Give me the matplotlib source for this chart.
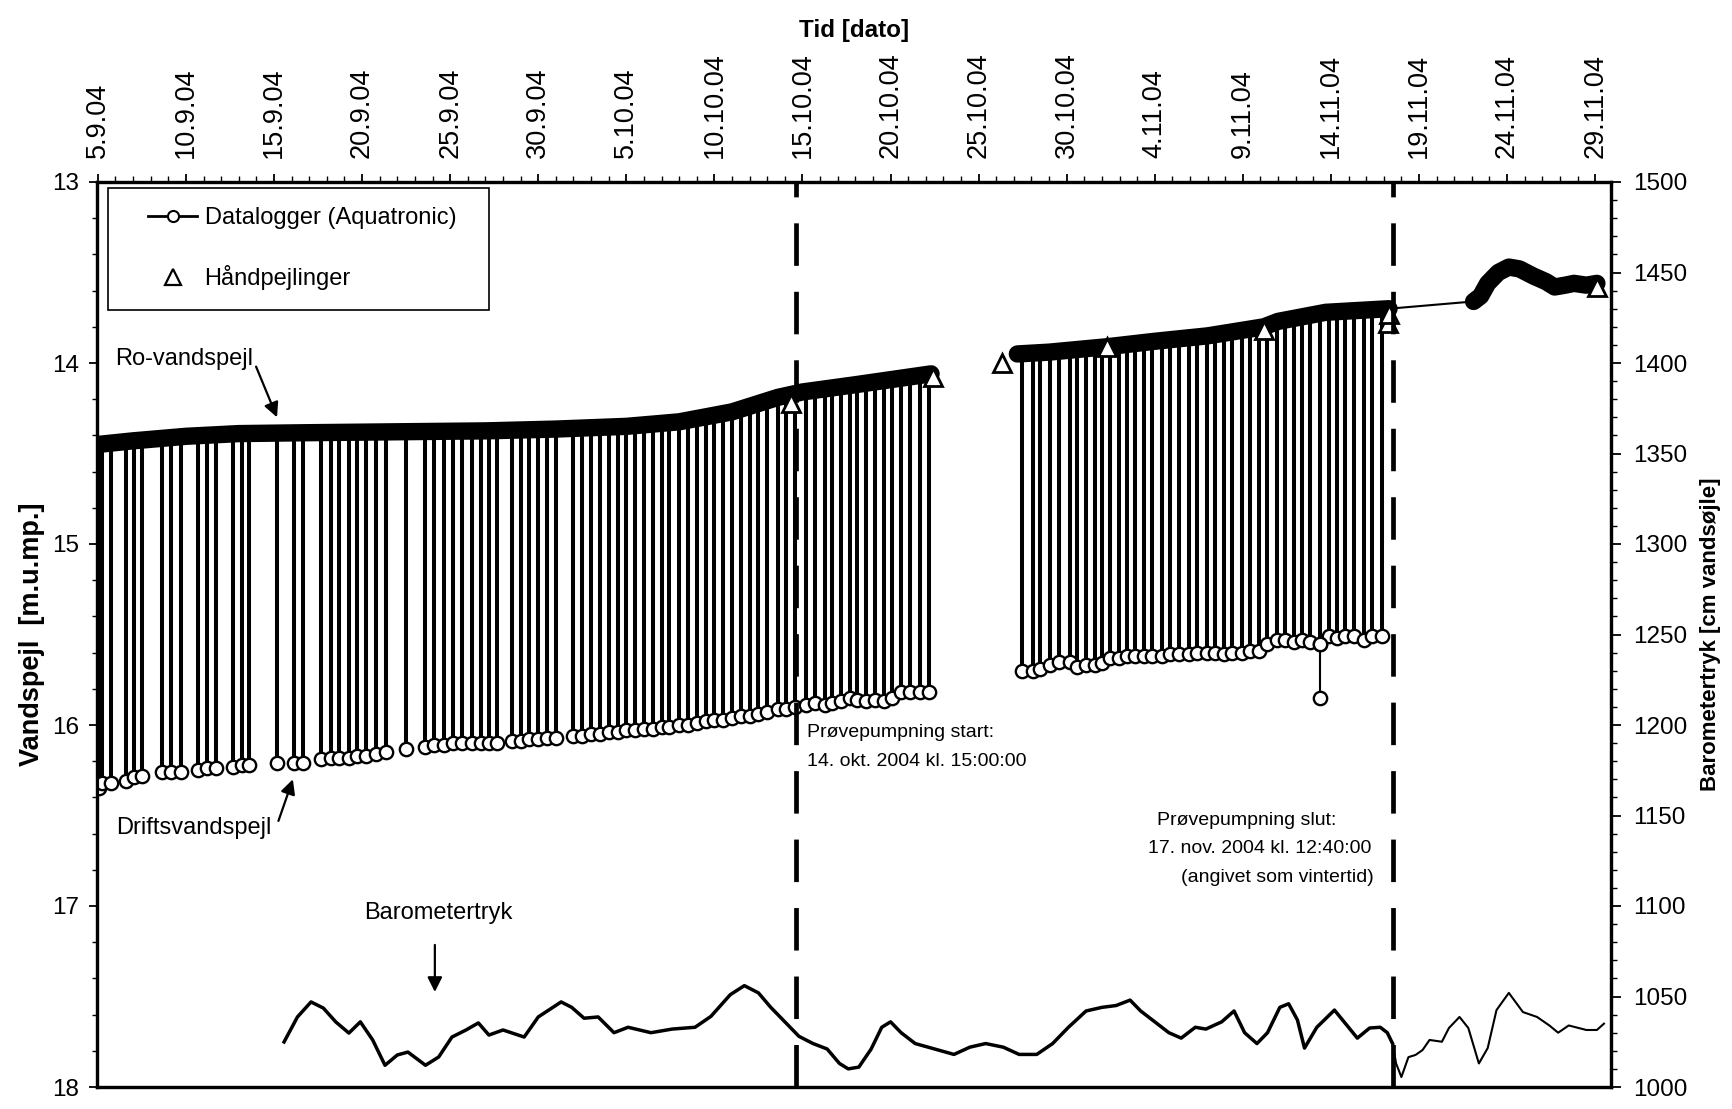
import numpy as np
import matplotlib
matplotlib.use("Agg")
import matplotlib.pyplot as plt
from matplotlib.lines import Line2D
from matplotlib.legend_handler import HandlerLine2D

plt.rcParams['font.family'] = ['Liberation Sans', 'DejaVu Sans']

# ---------------- data (x = days after 5.9.04 00:00) ----------------
tick_days = [0, 5, 10, 15, 20, 25, 30, 35, 40, 45, 50, 55, 60, 65, 70, 75, 80, 85]
tick_labels = ["5.9.04", "10.9.04", "15.9.04", "20.9.04", "25.9.04", "30.9.04",
               "5.10.04", "10.10.04", "15.10.04", "20.10.04", "25.10.04", "30.10.04",
               "4.11.04", "9.11.04", "14.11.04", "19.11.04", "24.11.04", "29.11.04"]

# rest water level (Ro-vandspejl), datalogger
rest1_day = [0, 2, 5, 8, 12, 17, 22, 26, 30, 33, 36, 38.6, 40, 43, 47.3]
rest1_lvl = [14.45, 14.43, 14.405, 14.39, 14.385, 14.38, 14.375, 14.365, 14.35, 14.325,
             14.27, 14.19, 14.16, 14.12, 14.06]
rest2_day = [52.2, 54, 57.3, 60, 63, 66.2, 67, 69.7, 73.3]
rest2_lvl = [13.95, 13.94, 13.91, 13.88, 13.85, 13.80, 13.77, 13.72, 13.70]
gap_day = [73.3, 78.1]
gap_lvl = [13.70, 13.66]
rest3_day = [78.1, 78.5, 78.9, 79.5, 80.1, 80.7, 81.5, 82.2, 82.7, 83.3, 83.8, 84.5, 85.1]
rest3_lvl = [13.66, 13.63, 13.56, 13.50, 13.47, 13.48, 13.52, 13.55, 13.58, 13.57, 13.56,
             13.57, 13.56]

# operating water level (Driftsvandspejl) - pumping events
drift1_day = [0.08, 0.25, 0.76, 1.61, 2.07, 2.52, 3.65, 4.16, 4.73, 5.69, 6.2, 6.71, 7.67,
              8.19, 8.58, 10.17, 11.13, 11.64, 12.66, 13.23, 13.68, 14.25, 14.7, 15.21,
              15.78, 16.35, 17.48, 18.56, 19.07, 19.63, 20.14, 20.65, 21.22, 21.73, 22.18,
              22.63, 23.5, 24.0, 24.5, 25.0, 25.5, 26.0, 27.0, 27.5, 28.0, 28.5, 29.0, 29.5,
              30.0, 30.5, 31.0, 31.5, 32.0, 32.4, 33.0, 33.5, 34.0, 34.5, 35.0, 35.5, 36.0,
              36.5, 37.0, 37.5, 38.0, 38.6, 39.06, 39.6, 40.2, 40.7, 41.3, 41.7, 42.2, 42.7,
              43.1, 43.6, 44.1, 44.6, 45.1, 45.6, 46.1, 46.7, 47.2]
drift1_lvl = [16.35, 16.32, 16.32, 16.31, 16.29, 16.28, 16.26, 16.26, 16.26, 16.25, 16.24,
              16.24, 16.23, 16.22, 16.22, 16.21, 16.21, 16.21, 16.19, 16.18, 16.18, 16.18,
              16.17, 16.17, 16.16, 16.15, 16.13, 16.12, 16.11, 16.11, 16.10, 16.10, 16.10,
              16.10, 16.10, 16.10, 16.09, 16.09, 16.08, 16.08, 16.07, 16.07, 16.06, 16.06,
              16.05, 16.05, 16.04, 16.04, 16.03, 16.03, 16.02, 16.02, 16.01, 16.01, 16.00,
              16.00, 15.99, 15.98, 15.97, 15.97, 15.96, 15.95, 15.95, 15.94, 15.93, 15.91,
              15.91, 15.90, 15.89, 15.88, 15.89, 15.88, 15.87, 15.85, 15.86, 15.87, 15.86,
              15.87, 15.85, 15.82, 15.82, 15.82, 15.82]
drift2_day = [52.49, 53.06, 53.51, 54.08, 54.59, 55.16, 55.61, 56.07, 56.58, 57.03, 57.48,
              57.99, 58.44, 58.90, 59.41, 59.86, 60.43, 60.88, 61.39, 61.95, 62.41, 62.97,
              63.43, 63.94, 64.39, 64.96, 65.41, 65.92, 66.37, 66.94, 67.39, 67.90, 68.36,
              68.81, 69.38, 69.89, 70.34, 70.79, 71.30, 71.87, 72.32, 72.89]
drift2_lvl = [15.70, 15.70, 15.69, 15.67, 15.65, 15.65, 15.68, 15.67, 15.67, 15.66, 15.63,
              15.63, 15.62, 15.62, 15.62, 15.62, 15.62, 15.61, 15.61, 15.61, 15.60, 15.60,
              15.60, 15.61, 15.60, 15.60, 15.59, 15.59, 15.55, 15.53, 15.53, 15.54, 15.53,
              15.54, 15.55, 15.51, 15.52, 15.51, 15.51, 15.53, 15.51, 15.51]
outlier_day = [69.38, 69.38]
outlier_lvl = [15.55, 15.85]

# manual dips (Haandpejlinger)
hand_day = [39.35, 47.4, 51.3, 57.3, 66.2, 73.25, 73.3, 85.1]
hand_lvl = [14.22, 14.08, 14.00, 13.91, 13.82, 13.78, 13.73, 13.58]

# barometric pressure [cm water column]
baro_a_day = [10.57, 11.33, 12.1, 12.8, 13.5, 14.25, 14.9, 15.6, 16.3, 17.0, 17.6, 18.6,
              19.35, 20.1, 20.9, 21.6, 22.2, 23.0, 24.2, 25.0, 26.3, 26.9, 27.6, 28.4, 29.3,
              30.1, 31.4, 32.6, 33.9, 34.8, 35.9, 36.7, 37.5, 38.2, 39.2, 39.8, 40.6, 41.4,
              42.1, 42.6, 43.2, 43.9, 44.5, 45.0, 45.6, 46.4, 47.5, 48.6, 49.5, 50.4, 51.4,
              52.3, 53.3, 54.2, 55.1, 56.1, 57.0, 57.8, 58.6, 59.2, 60.0, 60.8, 61.5, 62.3,
              62.9, 63.8, 64.5, 65.1, 65.8, 66.4, 67.1, 67.6, 68.1, 68.5, 69.2, 70.2, 71.5,
              72.2, 72.8, 73.2, 73.5]
baro_a = [1024.9, 1038.7, 1047, 1043.6, 1036, 1029.8, 1036, 1026, 1012, 1017.7, 1019.3,
          1012, 1016.6, 1027.6, 1031.5, 1035.4, 1028.7, 1031.5, 1027.6, 1038.7, 1047, 1044,
          1038, 1038.7, 1030, 1033, 1030, 1032, 1033, 1039, 1051, 1056, 1052, 1044, 1034,
          1028, 1024, 1021, 1013, 1010, 1011, 1021, 1033, 1036, 1030, 1024, 1021, 1018,
          1022, 1024, 1022, 1018, 1018, 1024, 1033, 1042, 1044, 1045, 1048, 1042, 1036,
          1030, 1027, 1033, 1032, 1036, 1042, 1030, 1024, 1030, 1044, 1046, 1037, 1021.5,
          1033, 1042.5, 1027, 1032.6, 1033, 1030, 1024]
baro_b_day = [73.5, 73.7, 74.0, 74.4, 74.8, 75.2, 75.6, 76.3, 76.7, 77.3, 77.8, 78.4, 78.9,
              79.4, 80.1, 80.9, 81.7, 82.4, 82.9, 83.5, 84.5, 85.1, 85.5]
baro_b = [1024, 1013, 1005.5, 1016.5, 1017.7, 1020.4, 1026, 1025, 1032.6, 1038.7, 1032.6,
          1013, 1021.5, 1042.5, 1052, 1041.4, 1038.7, 1034, 1030, 1034, 1031.5, 1031.5, 1035]

pump_start = 39.625   # 14.10.04 15:00
pump_stop = 73.53     # 17.11.04 12:40

# ---------------- figure ----------------
W, H = 1732, 1109
fig = plt.figure(figsize=(W / 100, H / 100), dpi=100)
ax = fig.add_axes([97 / W, 22 / H, 1514 / W, 905 / H])
ax2 = ax.twinx()

ax.set_xlim(-0.05, 85.9)
ax.set_ylim(18, 13)
ax2.set_ylim(1000, 1500)

BLACK = 'black'
# rest level bands
for d, l in ((rest1_day, rest1_lvl), (rest2_day, rest2_lvl), (rest3_day, rest3_lvl)):
    ax.plot(d, l, color=BLACK, lw=12.5, solid_capstyle='round', solid_joinstyle='round', zorder=3)
ax.plot(gap_day, gap_lvl, color=BLACK, lw=1.5, zorder=3)

# pumping spikes
for d, l, rd, rl in ((drift1_day, drift1_lvl, rest1_day, rest1_lvl),
                     (drift2_day, drift2_lvl, rest2_day, rest2_lvl)):
    top = np.interp(d, rd, rl)
    ax.vlines(d, top, l, color=BLACK, lw=2.9, zorder=2)
    ax.plot(d, l, ls='none', marker='o', ms=9.6, mfc='white', mec=BLACK, mew=1.7, zorder=4)
ax.plot(outlier_day, outlier_lvl, color=BLACK, lw=1.5, marker='o', ms=9.6, mfc='white',
        mec=BLACK, mew=1.7, zorder=4)

# manual dips
ax.plot(hand_day, hand_lvl, ls='none', marker='^', ms=13.5, mfc='white', mec=BLACK,
        mew=2.0, zorder=5)

# pumping test start / stop
for xv in (pump_start, pump_stop):
    ax.axvline(xv, color=BLACK, lw=3.4, dashes=(9, 5.5), zorder=6)

# barometer
ax2.plot(baro_a_day, baro_a, color=BLACK, lw=2.5, solid_joinstyle='round')
ax2.plot(baro_b_day, baro_b, color=BLACK, lw=1.5, solid_joinstyle='round')

# ---------------- axes styling ----------------
for a in (ax, ax2):
    for s in a.spines.values():
        s.set_linewidth(2.3)

ax.xaxis.tick_top()
ax.set_xticks(tick_days)
ax.set_xticklabels(tick_labels, rotation=90, fontsize=19.5)
ax.set_xticks(np.arange(0, 86, 1), minor=True)
ax.tick_params(axis='x', which='major', top=True, bottom=False, direction='out',
               length=6, width=1.3, pad=11)
ax.tick_params(axis='x', which='minor', top=True, bottom=False, direction='out',
               length=4, width=1.0)

ax.set_yticks([13, 14, 15, 16, 17, 18])
ax.set_yticklabels(["13", "14", "15", "16", "17", "18"], fontsize=17.5)
ax.set_yticks(np.arange(13, 18.01, 0.2), minor=True)
ax.tick_params(axis='y', which='major', left=True, right=False, direction='out',
               length=6, width=1.3, pad=7)
ax.tick_params(axis='y', which='minor', left=True, right=False, direction='out',
               length=3.5, width=1.0)

ax2.set_yticks(np.arange(1000, 1501, 50))
ax2.set_yticklabels([str(v) for v in range(1000, 1501, 50)], fontsize=17.5)
ax2.set_yticks(np.arange(1000, 1501, 10), minor=True)
ax2.tick_params(axis='y', which='major', right=True, direction='out', length=7,
                width=1.3, pad=9)
ax2.tick_params(axis='y', which='minor', right=True, direction='out', length=4, width=1.0)

ax.xaxis.set_label_position('top')
ax.set_xlabel("Tid [dato]", fontsize=17.5, fontweight='bold')
ax.xaxis.set_label_coords(0.5, 1.1602)
ax.set_ylabel("Vandspejl  [m.u.mp.]", fontsize=19.5, fontweight='bold')
ax.yaxis.set_label_coords(-0.0343, 0.5)
ax2.set_ylabel("Barometertryk [cm vandsøjle]", fontsize=16, fontweight='bold')
ax2.yaxis.set_label_coords(1.0588, 0.5)

# ---------------- legend ----------------
h_log = Line2D([], [], color=BLACK, lw=2.0, marker='o', ms=8, mfc='white', mec=BLACK, mew=1.5)
h_hand = Line2D([], [], ls='none', marker='^', ms=11, mfc='white', mec=BLACK, mew=1.6)
leg = ax2.legend([h_log, h_hand], ["Datalogger (Aquatronic)", "Håndpejlinger"],
                 loc='upper left', bbox_to_anchor=(11 / 1514, 0, 381 / 1514, 899 / 905),
                 mode='expand', borderaxespad=0, fontsize=17, frameon=True, fancybox=False,
                 edgecolor=BLACK, framealpha=1, borderpad=0.82, labelspacing=1.52,
                 handlelength=2.97, handletextpad=0.3, numpoints=1,
                 handler_map={h_log: HandlerLine2D(xpad=0.89), h_hand: HandlerLine2D(xpad=0.89)})
leg.get_frame().set_linewidth(1.2)

# ---------------- annotations ----------------
arrow = dict(arrowstyle='-|>', color=BLACK, lw=1.6, mutation_scale=22, shrinkA=0, shrinkB=0)
ax.text(0.99, 13.98, "Ro-vandspejl", fontsize=17, va='center', ha='left')
ax.annotate("", xy=(10.17, 14.30), xytext=(8.98, 14.02), arrowprops=arrow)
ax.text(1.05, 16.57, "Driftsvandspejl", fontsize=17, va='center', ha='left')
ax.annotate("", xy=(11.07, 16.30), xytext=(10.25, 16.53), arrowprops=arrow)
ax.text(19.35, 17.04, "Barometertryk", fontsize=17, va='center', ha='center')
ax.annotate("", xy=(19.13, 17.475), xytext=(19.13, 17.215), arrowprops=arrow)

ax.text(40.25, 16.04, "Prøvepumpning start:", fontsize=14, va='center', ha='left')
ax.text(40.25, 16.20, "14. okt. 2004 kl. 15:00:00", fontsize=14, va='center', ha='left')
ax.text(60.1, 16.53, "Prøvepumpning slut:", fontsize=14, va='center', ha='left')
ax.text(59.6, 16.685, "17. nov. 2004 kl. 12:40:00", fontsize=14, va='center', ha='left')
ax.text(61.5, 16.845, "(angivet som vintertid)", fontsize=14, va='center', ha='left')

fig.savefig("out.png", dpi=100, facecolor='white')
